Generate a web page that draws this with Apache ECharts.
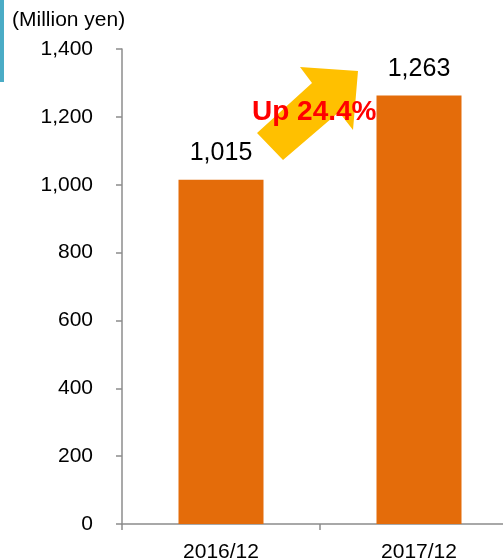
<!DOCTYPE html>
<html>
<head>
<meta charset="utf-8">
<script src="https://cdn.jsdelivr.net/npm/echarts@6/dist/echarts.min.js"></script>
<style>
  html, body { margin: 0; padding: 0; background: #fff; }
  #chart { width: 503px; height: 560px; }
</style>
</head>
<body>
<div id="chart"></div>
<script>
// Net sales by fiscal year (million yen)
const categories = ['2016/12', '2017/12'];
const sales = [1015, 1263];
const unitLabel = '(Million yen)';
const growthLabel = 'Up 24.4%';

const FONT = '"Liberation Sans", Arial, sans-serif';
const chart = echarts.init(document.getElementById('chart'));

chart.setOption({
  animation: false,
  textStyle: { fontFamily: FONT },
  // plot area runs past the right edge, so the last category is cut off
  grid: { left: 122, top: 49, bottom: 36, right: -15, outerBoundsMode: 'none', containLabel: false },
  xAxis: {
    type: 'category',
    data: categories,
    axisLine: { lineStyle: { color: '#8c8c8c', width: 1.5 } },
    axisTick: { show: true, length: 6, lineStyle: { color: '#8c8c8c', width: 1.5 } },
    axisLabel: { color: '#000', fontSize: 21, margin: 18, fontFamily: FONT }
  },
  yAxis: {
    type: 'value',
    min: 0,
    max: 1400,
    interval: 200,
    splitLine: { show: false },
    axisLine: { show: true, lineStyle: { color: '#8c8c8c', width: 1.5 } },
    axisTick: { show: true, length: 6, lineStyle: { color: '#8c8c8c', width: 1.5 } },
    axisLabel: {
      color: '#000', fontSize: 21, margin: 29, fontFamily: FONT,
      formatter: v => v.toLocaleString('en-US')
    }
  },
  series: [{
    type: 'bar',
    data: sales,
    barWidth: 85,
    itemStyle: { color: '#E46C0A' },
    label: {
      show: true,
      position: 'top',
      distance: 14,
      color: '#000',
      fontSize: 25,
      fontFamily: FONT,
      formatter: p => p.value.toLocaleString('en-US')
    }
  }],
  graphic: [
    { type: 'rect', left: 0, top: 0, shape: { width: 4, height: 82 }, style: { fill: '#4BACC6' } },
    {
      type: 'text', left: 12, top: 10,
      style: { text: unitLabel, font: '21px ' + FONT, fill: '#000' }
    },
    {
      type: 'polygon', z: 10,
      shape: { points: [[257, 133], [312, 83], [300, 67], [358, 71], [353, 130], [339, 112], [283, 160]] },
      style: { fill: '#FFC000' }
    },
    {
      type: 'text', z: 20, left: 252, top: 98,
      style: { text: growthLabel, font: 'bold 28px ' + FONT, fill: '#FF0000' }
    }
  ]
});
</script>
</body>
</html>
